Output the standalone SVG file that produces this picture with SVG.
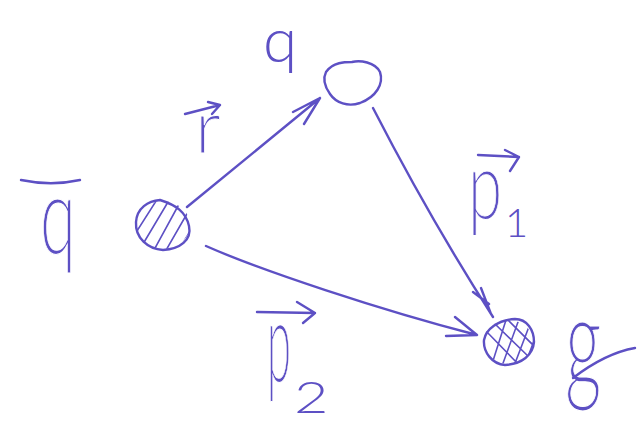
<svg xmlns="http://www.w3.org/2000/svg" width="637" height="423" viewBox="0 0 637 423">
<style>
.s{fill:none;stroke:#5d50c4;stroke-width:2.4;stroke-linecap:round;stroke-linejoin:round}
.h{fill:none;stroke:#5d50c4;stroke-width:1.6;stroke-linecap:round}
.t{font-family:"Lato","Liberation Sans",sans-serif;font-weight:300;fill:#5d50c4}
.w{stroke:#fff;stroke-width:.6}
</style>
<defs>
<clipPath id="c1"><ellipse cx="163" cy="225" rx="27" ry="24"/></clipPath>
<clipPath id="c2"><ellipse cx="508.5" cy="342" rx="25" ry="22"/></clipPath>
</defs>
<rect width="637" height="423" fill="#fff"/>
<g id="connectors">
<path class="s" d="M187 207L320 98M293 112L320 98L304 124"/>
<path class="s" d="M373 108C410 180 450 250 493 317M473 292L489 304M481 288L491 314"/>
<path class="s" d="M206 246C260 270 380 310 477 335M455 317L477 335L446 336"/>
</g>
<g id="node-q">
<path class="s" d="M326 72C333 62 345 62 352 62C360 60 375 62 380 72C384 84 376 97 360 103C348 107 336 103 330 94C325 87 322 80 326 72Z"/>
</g>
<g id="node-qbar">
<path class="s" d="M136 222C137 208 148 201 160 200C176 205 186 212 189 226C192 240 180 249 163 250C148 249 135 238 136 222Z"/>
<g clip-path="url(#c1)"><path class="h" d="M135 234L158 198M143 244L168 202M154 250L178 206M165 252L188 212M176 254L196 222"/></g>
</g>
<g id="node-g">
<path class="s" d="M484 340C486 329 498 320 515 319C527 319 534 330 534 342C533 355 522 364 505 365C492 364 483 352 484 340Z"/>
<g clip-path="url(#c2)"><path class="h" d="M485 330L520 366M494 323L530 358M506 318L536 348M520 316L538 334M492 364L506 320M502 366L518 322M514 366L530 324M526 362L538 330"/></g>
</g>
<g id="label-q">
<text class="t" transform="translate(263,62)" font-size="62">q</text>
</g>
<g id="label-qbar">
<path class="s" d="M21 180C40 184 62 184 80 180"/>
<text class="t w" transform="translate(40,254) scale(1.05,1.75)" font-size="62">q</text>
</g>
<g id="label-r">
<path class="s" d="M185 114L220 105M208 102L220 105L212 114"/>
<text class="t w" transform="translate(195,153) scale(1.25,1.3)" font-size="58">r</text>
</g>
<g id="label-p1">
<path class="s" d="M478 155L519 157M505 150L519 157L510 171"/>
<text class="t w" transform="translate(468,219) scale(1,1.52)" font-size="62">p</text>
<text class="t" x="505" y="237" font-size="40">1</text>
</g>
<g id="label-p2">
<path class="s" d="M257 312L315 313M297 302L315 313L303 323"/>
<text class="t w" transform="translate(267,382) scale(.7,1.82)" font-size="62">p</text>
<text class="t" transform="translate(294,413) scale(1.35,1)" font-size="44">2</text>
</g>
<g id="label-g">
<text class="t w" transform="translate(565,387) scale(1.15,2.07)" font-size="62">g</text>
<path class="s" d="M573 378C590 365 612 352 635 348"/>
</g>
</svg>
